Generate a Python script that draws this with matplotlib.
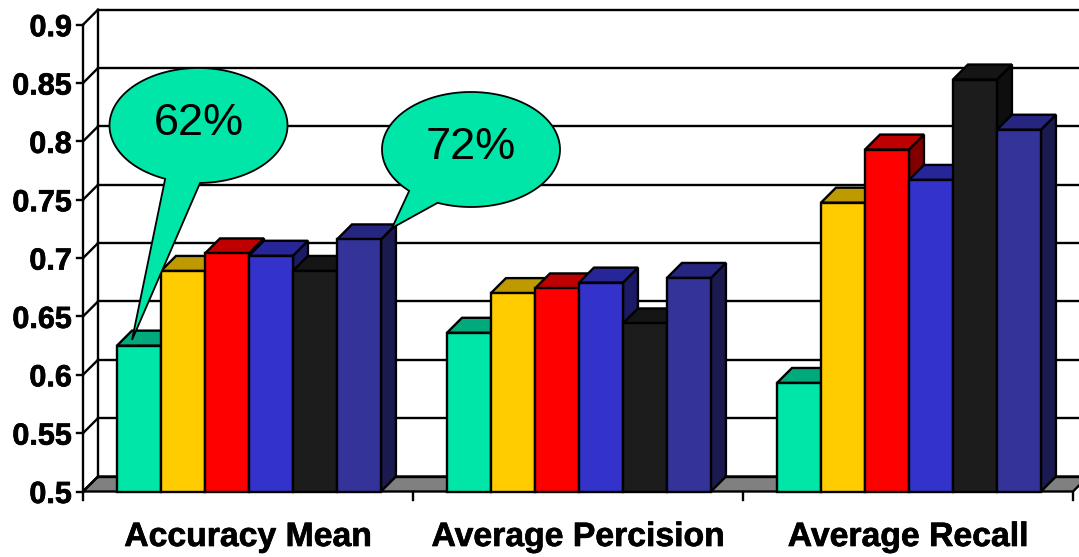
import matplotlib
matplotlib.use("Agg")
import matplotlib.pyplot as plt
from matplotlib.patches import Polygon, PathPatch
from matplotlib.path import Path
import matplotlib.patheffects as pe
import numpy as np

plt.rcParams['font.family'] = ['Liberation Sans', 'DejaVu Sans']

categories = ['Accuracy Mean', 'Average Percision', 'Average Recall']
y_ticks = [0.5, 0.55, 0.6, 0.65, 0.7, 0.75, 0.8, 0.85, 0.9]
y_labels = ['0.5', '0.55', '0.6', '0.65', '0.7', '0.75', '0.8', '0.85', '0.9']

series_a = [0.625, 0.636, 0.593]
series_b = [0.689, 0.670, 0.7475]
series_c = [0.704, 0.674, 0.793]
series_d = [0.702, 0.679, 0.767]
series_e = [0.689, 0.644, 0.853]
series_f = [0.716, 0.683, 0.810]
all_series = [series_a, series_b, series_c, series_d, series_e, series_f]

# front, top, side colour of each series
face_colors = ['#00E6A8', '#FFCC00', '#FF0000', '#3333CC', '#1C1C1C', '#333399']
top_colors = ['#00AA7C', '#BF9900', '#BF0000', '#262699', '#151515', '#262680']
side_colors = ['#00805E', '#806600', '#800000', '#1A1A66', '#0E0E0E', '#1A1A50']

W, H = 1079, 557
LW = 1.7
heavy = [pe.withStroke(linewidth=0.5, foreground='k')]
fig = plt.figure(figsize=(W / 100, H / 100), dpi=100)
ax = fig.add_axes([0, 0, 1, 1])

# one category = 330 px, 0.05 on the value axis = 58.35 px
x0_px, y0_px = 83, 491.5
group_px = 330.0
unit_px = 1167.0
ax.set_xlim(-x0_px / group_px, (W - x0_px) / group_px)
ax.set_ylim(0.5 - (H - y0_px) / unit_px, 0.5 + y0_px / unit_px)
ax.axis('off')

dx = 15 / group_px
dy = 15 / unit_px
bar_w = 0.1333
bar_start = 0.103
right = ax.get_xlim()[1]
n_groups = len(categories)

# left wall, back wall lines and side diagonals
ax.plot([0, 0], [0.5, 0.9], color='k', lw=LW, zorder=2)
ax.plot([dx, dx], [0.5 + dy, 0.9 + dy], color='k', lw=LW, zorder=2)
for t, lab in zip(y_ticks, y_labels):
    ax.plot([0, dx], [t, t + dy], color='k', lw=LW, zorder=2)
    ax.plot([dx, right], [t + dy, t + dy], color='k', lw=LW, zorder=2)
    ax.plot([-6 / group_px, 0], [t, t], color='k', lw=LW, zorder=2)
    ax.text(-11 / group_px, t, lab, ha='right', va='center_baseline', fontsize=22,
            fontweight='bold', color='k', zorder=6, path_effects=heavy)

# floor, runs past the right edge of the figure
ax.add_patch(Polygon([[0, 0.5], [dx, 0.5 + dy], [n_groups + dx, 0.5 + dy], [n_groups, 0.5]],
                     facecolor='#808080', edgecolor='k', lw=LW, zorder=1.5))
for g in range(n_groups + 1):
    ax.plot([g, g], [0.5, 0.5 - 8 / unit_px], color='k', lw=LW, zorder=2)

# bars, painted left to right so each one covers the side of the previous
z = 3
for g in range(n_groups):
    for s, values in enumerate(all_series):
        v = values[g]
        x1 = g + bar_start + s * bar_w
        x2 = x1 + bar_w
        ax.add_patch(Polygon([[x2, 0.5], [x2 + dx, 0.5 + dy], [x2 + dx, v + dy], [x2, v]],
                             facecolor=side_colors[s], edgecolor='k', lw=LW, zorder=z))
        ax.add_patch(Polygon([[x1, v], [x1 + dx, v + dy], [x2 + dx, v + dy], [x2, v]],
                             facecolor=top_colors[s], edgecolor='k', lw=LW, zorder=z))
        ax.bar(x1, v - 0.5, width=bar_w, bottom=0.5, align='edge', color=face_colors[s],
               edgecolor='k', linewidth=LW, zorder=z + 0.1)
        z += 0.2

for g, name in enumerate(categories):
    ax.text(g + 0.5, 0.5 - 46 / unit_px, name, ha='center', va='center', fontsize=24.3,
            fontweight='bold', color='k', zorder=6, path_effects=heavy)


def px(x, y):
    return [(x - x0_px) / group_px, 0.5 + (y0_px - y) / unit_px]


def callout(cx, cy, rx, ry, a1, a2, tip, label):
    # speech bubble: ellipse arc from a1 round to a2, then out to the tip
    ang = np.radians(np.linspace(a1, a2, 200))
    pts = [px(cx + rx * np.cos(t), cy - ry * np.sin(t)) for t in ang]
    pts.append(px(*tip))
    pts.append(pts[0])
    codes = [Path.MOVETO] + [Path.LINETO] * (len(pts) - 2) + [Path.CLOSEPOLY]
    ax.add_patch(PathPatch(Path(pts, codes), facecolor='#00E6A8', edgecolor='k',
                           lw=1.3, zorder=8))
    ax.text(*px(cx, cy - 2), label, ha='center', va='center', fontsize=32.5, color='k',
            zorder=9)


callout(198.5, 125.5, 89, 57.5, 271, 608, (132, 340), '62%')
callout(471, 149.5, 89, 57.5, 248, 586, (392, 228), '72%')

fig.savefig('out.png', dpi=100)
